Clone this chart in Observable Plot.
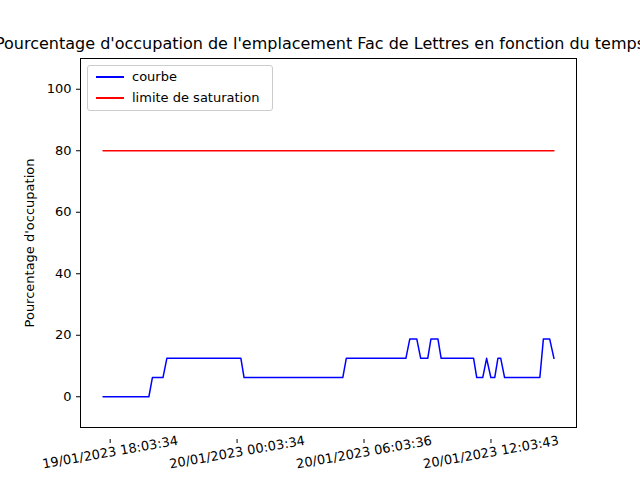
<!DOCTYPE html>
<html><head><meta charset="utf-8">
<script src="https://cdn.jsdelivr.net/npm/d3@7"></script>
<script src="https://cdn.jsdelivr.net/npm/@observablehq/plot@0.6"></script>
<style>
body{margin:0;font-family:"DejaVu Sans",sans-serif;}
#wrap{position:relative;width:640px;height:480px;overflow:hidden;}
#title{position:absolute;top:34px;left:-200px;width:1040px;text-align:center;white-space:nowrap;font-size:16px;}
#legend{position:absolute;left:87px;top:65px;width:184px;height:44px;border:1px solid #ccc;border-radius:3px;background:#fff;font-size:13px;}
.li{position:absolute;left:8px;display:flex;align-items:center;}
.sw{width:28px;height:0;border-top:2px solid;margin-right:8px;}
</style></head><body>
<div id="wrap"><div id="title">Pourcentage d'occupation de l'emplacement Fac de Lettres en fonction du temps</div></div>
<script>
const times = ["2023-01-19T17:32","2023-01-19T19:42","2023-01-19T19:52","2023-01-19T20:22","2023-01-19T20:33","2023-01-20T00:03","2023-01-20T00:12","2023-01-20T04:52","2023-01-20T05:02","2023-01-20T07:51","2023-01-20T08:02","2023-01-20T08:22","2023-01-20T08:33","2023-01-20T08:53","2023-01-20T09:02","2023-01-20T09:22","2023-01-20T09:31","2023-01-20T11:03","2023-01-20T11:12","2023-01-20T11:29","2023-01-20T11:40","2023-01-20T11:52","2023-01-20T12:03","2023-01-20T12:12","2023-01-20T12:20","2023-01-20T12:31","2023-01-20T14:11","2023-01-20T14:21","2023-01-20T14:39","2023-01-20T14:51"];
const values = [0,0,6.25,6.25,12.5,12.5,6.25,6.25,12.5,12.5,18.75,18.75,12.5,12.5,18.75,18.75,12.5,12.5,6.25,6.25,12.5,6.25,6.25,12.5,12.5,6.25,6.25,18.75,18.75,12.5];
const limit = 80;
const tickTimes = ["2023-01-19T18:03:34","2023-01-20T00:03:34","2023-01-20T06:03:36","2023-01-20T12:03:43"];
const tickLabels = ["19/01/2023 18:03:34","20/01/2023 00:03:34","20/01/2023 06:03:36","20/01/2023 12:03:43"];

const data = times.map((t,i)=>({t:new Date(t),v:values[i]}));
const ticks = tickTimes.map(t=>new Date(t));
const first = data[0].t, last = data[data.length-1].t;
const pad = (last-first)*0.05;
const plot = Plot.plot({
  width:640,height:480,marginLeft:80,marginRight:64,marginTop:58,marginBottom:53,
  style:{fontFamily:"DejaVu Sans",fontSize:"12.5px",background:"transparent"},
  x:{type:"time",domain:[new Date(+first-pad),new Date(+last+pad)]},
  y:{domain:[-10,110]},
  marks:[
    Plot.line(data,{x:"t",y:"v",stroke:"blue",strokeWidth:1.5}),
    Plot.line([{t:first,v:limit},{t:last,v:limit}],{x:"t",y:"v",stroke:"red",strokeWidth:1.5}),
    Plot.axisX({ticks:ticks,tickFormat:(d,i)=>tickLabels[i],tickSize:4,tickRotate:-10,label:null,fill:"black",textAnchor:"middle",fontSize:13,dy:12,dx:-4}),
    Plot.axisY({ticks:[0,20,40,60,80,100],tickSize:4,fontSize:13,label:"Pourcentage d'occupation",labelAnchor:"center",labelArrow:"none",labelOffset:56}),
    Plot.frame({stroke:"black"})
  ]
});
document.getElementById("wrap").appendChild(plot);
plot.style.position="absolute";plot.style.left="0";plot.style.top="0";
const lg=document.createElement("div");lg.id="legend";
lg.innerHTML='<div class="li" style="top:3px"><div class="sw" style="border-color:blue"></div>courbe</div><div class="li" style="top:24px"><div class="sw" style="border-color:red"></div>limite de saturation</div>';
document.getElementById("wrap").appendChild(lg);
</script></body></html>
